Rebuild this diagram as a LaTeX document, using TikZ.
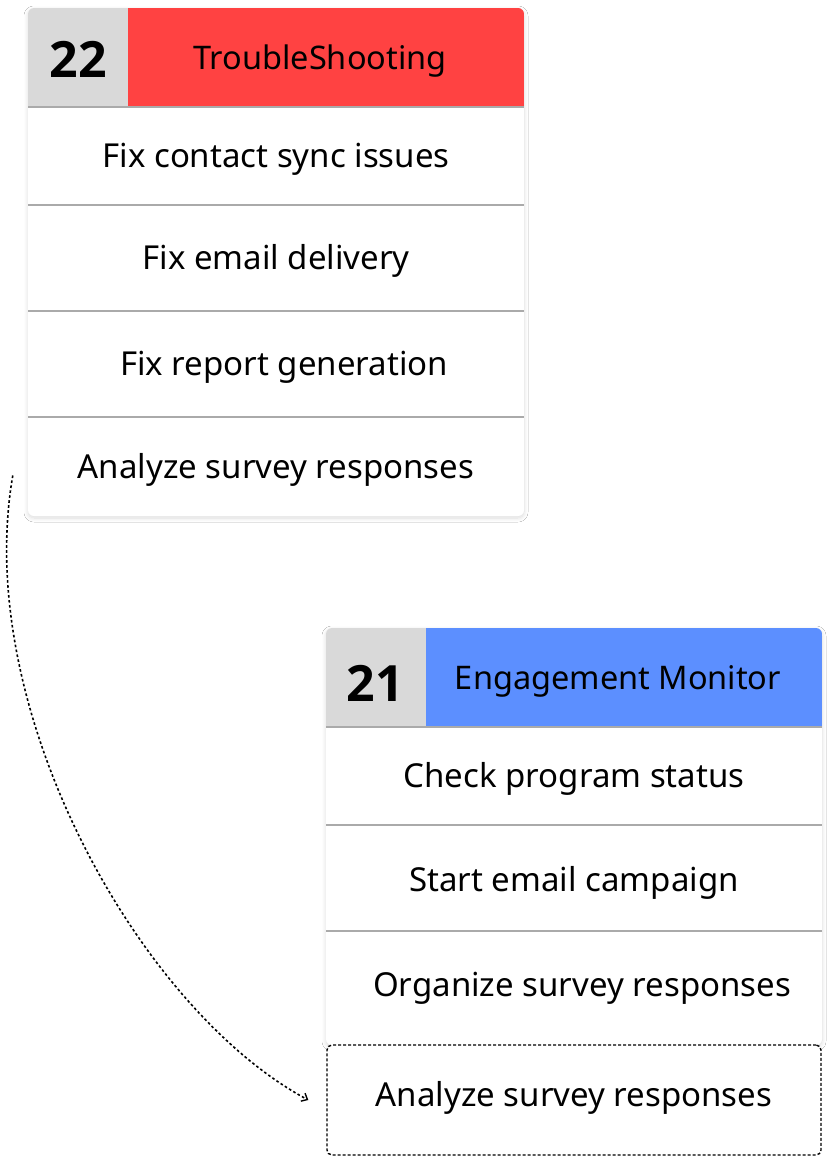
\documentclass[tikz,border=0pt]{standalone}
\usepackage{fontspec}
\setmainfont{Noto Sans}
\newfontfamily\numfont{Open Sans}
\usetikzlibrary{shadows.blur, arrows.meta}
\definecolor{hdrgray}{HTML}{D9D9D9}
\definecolor{hdrred}{HTML}{FF4242}
\definecolor{hdrblue}{HTML}{5C8FFF}
\definecolor{sepgray}{HTML}{AAAAAA}
\tikzset{
  cardbg/.style={fill=white, rounded corners=6pt, blur shadow={shadow blur steps=10, shadow xshift=0pt, shadow yshift=-2pt, shadow opacity=14, shadow blur radius=4pt}},
  numtext/.style={font=\numfont\bfseries\fontsize{50}{56}\selectfont, inner sep=0pt},
  titletext/.style={font=\fontsize{32.5}{38}\selectfont, inner sep=0pt},
  rowbox/.style={minimum width=496pt, font=\fontsize{33}{38}\selectfont, inner sep=0pt},
  sep/.style={draw=sepgray, line width=1.5pt},
  dashbox/.style={rowbox, minimum width=494pt, minimum height=110pt, draw, line width=1.4pt, dash pattern=on 3pt off 2pt, rounded corners=5pt},
  link/.style={line width=1.6pt, dash pattern=on 2.6pt off 2.4pt, -{Straight Barb[length=5pt,width=9pt,line width=1.4pt]}}
}
\begin{document}
\begin{tikzpicture}[x=1pt,y=-1pt]
\useasboundingbox (0,0) rectangle (834,1164);
\fill[white] (0,0) rectangle (834,1164);
% ---------- card 22 ----------
\path[cardbg] (28,8) rectangle (524,516);
\begin{scope}
  \clip[rounded corners=6pt] (28,8) rectangle (524,516);
  \fill[hdrgray] (28,8) rectangle (128,107);
  \fill[hdrred] (128,8) rectangle (524,107);
\end{scope}
\node[numtext] (n22) at (78,59) {22};
\node[titletext] (t22) at (320,61) {TroubleShooting};
\node[rowbox, minimum height=98pt] (a1) at (276,159) {Fix contact sync issues};
\node[rowbox, minimum height=106pt] (a2) at (276,261) {Fix email delivery};
\node[rowbox, minimum height=106pt] (a3) at (276,367) {\hspace{16pt}Fix report generation};
\node[rowbox, minimum height=99pt] (a4) at (276,469.5) {Analyze survey responses};
\draw[sep] (28,107) -- (524,107);
\draw[sep] (28,205) -- (524,205);
\draw[sep] (28,311) -- (524,311);
\draw[sep] (28,417) -- (524,417);
% ---------- card 21 ----------
\path[cardbg] (326,628) rectangle (822,1045);
\begin{scope}
  \clip[rounded corners=6pt] (326,628) rectangle (822,1045);
  \fill[hdrgray] (326,628) rectangle (426,727);
  \fill[hdrblue] (426,628) rectangle (822,727);
\end{scope}
\node[numtext] (n21) at (375,683) {21};
\node[titletext] (t21) at (618,681) {Engagement Monitor};
\node[rowbox, minimum height=98pt] (b1) at (574,779) {Check program status};
\node[rowbox, minimum height=106pt] (b2) at (574,883) {Start email campaign};
\node[rowbox, minimum height=114pt] (b3) at (574,988) {\hspace{16pt}Organize survey responses};
\draw[sep] (326,727) -- (822,727);
\draw[sep] (326,825) -- (822,825);
\draw[sep] (326,931) -- (822,931);
\node[dashbox, fill=white] (b4) at (574,1100) {};
\node[rowbox, minimum width=0pt] (b4t) at (574,1098) {Analyze survey responses};
% ---------- connector ----------
\draw[link] ([xshift=-15pt,yshift=-6pt]a4.west) .. controls (-28,710) and (140,1010) .. ([xshift=-18pt]b4.west);
\end{tikzpicture}
\end{document}
